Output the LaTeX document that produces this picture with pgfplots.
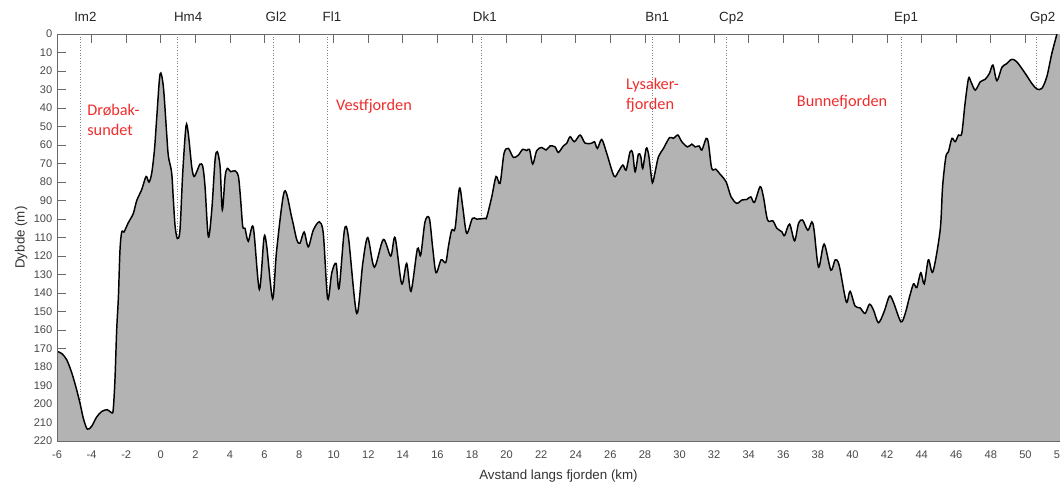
\documentclass[border=0pt]{standalone}
\usepackage{fontspec}
\setmainfont{Liberation Sans}
\newfontfamily\carlito{Carlito}
\usepackage{pgfplots}
\pgfplotsset{compat=1.18}
\usepackage{pgfplotstable}
\definecolor{axgray}{RGB}{105,105,105}
\definecolor{lblred}{RGB}{240,45,45}
\definecolor{fillgray}{RGB}{179,179,179}
\tikzset{lbl/.style={font=\carlito\fontsize{12.2}{15}\selectfont, text=lblred, inner sep=0pt}}

% bunnprofil langs fjorden: avstand (km), dybde (m)
\pgfplotstableread{
km depth
-6.00 171.5
-5.73 172.6
-5.44 176
-5.15 183
-4.90 191
-4.67 199.5
-4.48 207.6
-4.25 213.5
-4.00 212
-3.71 207
-3.42 204
-3.09 203
-2.84 204.7
-2.75 203
-2.65 187
-2.55 160
-2.45 142
-2.36 117
-2.26 107
-2.13 107
-1.88 102
-1.59 97
-1.39 90
-1.10 84
-0.85 77
-0.68 80
-0.52 75
-0.36 62
-0.23 44.7
-0.04 21.6
0.15 28.5
0.34 53.7
0.44 66
0.63 75
0.73 90
0.83 104
0.96 110.5
1.11 106
1.27 75
1.46 49.7
1.59 53.7
1.79 71.7
1.92 77
2.08 74.4
2.27 70.3
2.43 71.7
2.56 82.5
2.75 109.6
2.95 95
3.14 68
3.27 63.6
3.43 71.7
3.56 95
3.72 77
3.85 72.6
4.04 74.4
4.29 73.9
4.49 77
4.62 89.7
4.74 104
4.87 105
5.06 112
5.35 104.5
5.70 138
5.97 110
6.13 115
6.47 143
6.70 117
7.15 85
7.57 99
7.86 111
8.05 113
8.29 107
8.53 115
8.82 106
9.17 101.5
9.40 108
9.65 143
9.89 129
10.14 124
10.31 137.5
10.62 106
10.85 109.6
11.33 151
11.68 124
11.97 110
12.35 126
12.87 111
13.30 120
13.55 110
13.93 135
14.22 124
14.47 139
14.84 116
15.03 119.5
15.28 101.5
15.53 99.6
15.73 116
15.92 129
16.21 122
16.48 123.5
16.63 115
16.82 106
17.02 105
17.27 83.4
17.46 93.3
17.69 107.7
18.02 99.6
18.27 100
18.75 99.6
18.85 99
19.14 88
19.39 77
19.62 80.7
19.85 64.5
20.10 61.8
20.39 66.7
20.68 65.4
20.93 62.3
21.16 63
21.32 62.3
21.51 70.3
21.74 63
22.03 61.3
22.28 62.7
22.51 60.5
22.80 61
22.99 64
23.28 60.5
23.48 59
23.67 55.5
23.92 58.2
24.25 54.6
24.54 59
24.92 59
25.08 58.2
25.25 61.8
25.50 57
25.79 64.5
26.21 76.8
26.46 74.4
26.72 70.8
26.91 73.5
27.14 63.6
27.29 64.5
27.43 74.4
27.62 64.9
27.76 66.3
27.87 72.6
28.07 61.8
28.20 64.5
28.30 71.7
28.43 80.4
28.59 74.4
28.78 66.3
29.07 61.8
29.42 56
29.65 56.4
29.90 54.6
30.13 58.2
30.46 61
30.71 59.5
30.90 61
31.13 60.5
31.29 62.7
31.54 56.4
31.67 59
31.86 72.6
32.09 73
32.34 75.7
32.69 79.8
32.98 88
33.31 91.5
33.60 89.7
33.89 89.4
34.12 88
34.33 91
34.66 82.5
34.85 88
35.09 100.5
35.40 101
35.63 105
35.92 106.9
36.07 109
36.36 102.7
36.65 111.7
36.88 102.3
37.11 100.5
37.42 106
37.65 101.5
37.78 106
38.04 126
38.36 113.5
38.75 127.6
39.00 122
39.23 125
39.64 144.7
39.86 139
40.15 147
40.44 148
40.73 151
40.98 146
41.21 149
41.50 156
41.83 150
42.14 141.6
42.37 145
42.80 155.5
43.05 151
43.30 142
43.53 135
43.72 137
43.95 129
44.15 135
44.39 122
44.65 128.5
45.07 106
45.21 82.5
45.40 66.3
45.55 63.6
45.75 56.4
45.94 58.2
46.13 54.6
46.32 53.7
46.51 37.5
46.71 24
46.85 25.8
47.10 30.3
47.39 25.8
47.67 24.5
47.92 21.3
48.12 16.8
48.35 25.2
48.64 18
48.89 16.2
49.21 13.7
49.50 15
49.99 21.3
50.37 26.7
50.66 29.7
50.95 29.4
51.24 23
51.53 10.4
51.82 0
52.00 -8
}\profile

% stasjoner (vertikale prikklinjer)
\pgfplotstableread{
km depth
-4.63 220
0.94 220
6.49 220
9.63 220
18.56 220
28.45 220
32.69 220
42.81 220
50.66 220
}\stations

\begin{document}
\begin{tikzpicture}
\begin{axis}[
    at={(0,0)}, anchor=south west,
    scale only axis,
    width=752pt, height=305.25pt,
    xmin=-6, xmax=52,
    ymin=0, ymax=220,
    y dir=reverse,
    xtick={-6,-4,...,52},
    ytick={0,10,...,220},
    major tick length=7pt,
    axis line style={axgray, line width=0.6pt},
    every tick/.style={axgray, line width=0.6pt},
    tick label style={font=\fontsize{8.3}{10}\selectfont, text=black!72},
    xticklabel style={yshift=-4pt},
    /pgf/number format/assume math mode=true,
    xlabel={Avstand langs fjorden (km)},
    ylabel={Dybde (m)},
    label style={font=\fontsize{10}{12}\selectfont, text=black!80},
    xlabel style={yshift=-1pt},
    ylabel style={yshift=-2pt},
]

\addplot[ycomb, mark=none, gray, line width=0.5pt, dash pattern=on 0.7pt off 1.3pt]
    table[x=km, y=depth] {\stations};

\addplot[fill=fillgray, draw=none, smooth, tension=0.5]
    table[x=km, y=depth] {\profile} -- (axis cs:52,220) -- (axis cs:-6,220) -- cycle;

\addplot[black, line width=1.1pt, smooth, tension=0.5]
    table[x=km, y=depth] {\profile};

\node[lbl, align=left, anchor=west] at (axis cs:-4.26,46.5) {Drøbak-\\sundet};
\node[lbl] at (axis cs:12.33,38.9) {Vestfjorden};
\node[lbl, align=left, anchor=west] at (axis cs:26.9,33) {Lysaker-\\fjorden};
\node[lbl] at (axis cs:39.4,36.8) {Bunnefjorden};

\coordinate (sIm2) at (axis cs:-4.36,0);
\coordinate (sHm4) at (axis cs:1.58,0);
\coordinate (sGl2) at (axis cs:6.67,0);
\coordinate (sFl1) at (axis cs:9.90,0);
\coordinate (sDk1) at (axis cs:18.74,0);
\coordinate (sBn1) at (axis cs:28.71,0);
\coordinate (sCp2) at (axis cs:33.00,0);
\coordinate (sEp1) at (axis cs:43.10,0);
\coordinate (sGp2) at (axis cs:51.00,0);
\end{axis}

\draw[axgray, line width=0.6pt] (current axis.north west) -- (current axis.south west) -- (current axis.south east);

\foreach \s in {Im2,Hm4,Gl2,Fl1,Dk1,Bn1,Cp2,Ep1,Gp2}
    \node[anchor=base, font=\fontsize{10}{12}\selectfont, text=black!85, yshift=9.5pt] at (s\s) {\s};

\pgfresetboundingbox
\path[use as bounding box] (-42.75pt,-30.75pt) rectangle (752pt,330.75pt);
\end{tikzpicture}
\end{document}
